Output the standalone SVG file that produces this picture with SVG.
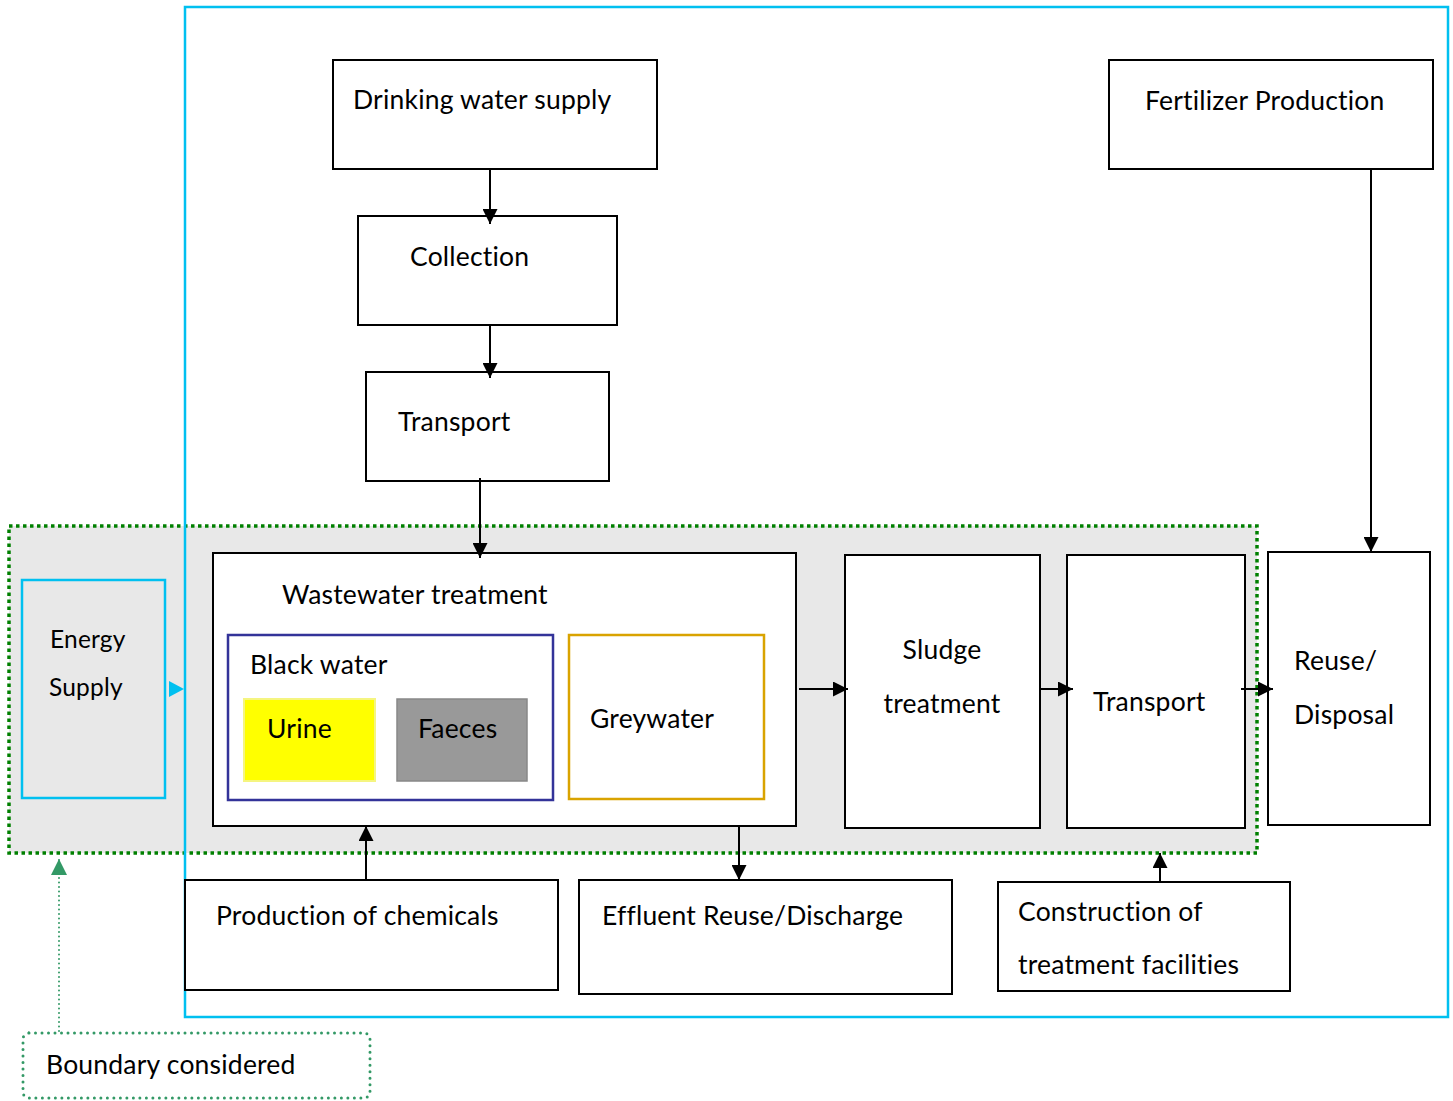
<svg xmlns="http://www.w3.org/2000/svg" width="1453" height="1101" viewBox="0 0 1453 1101">
  <style>
    text { font-family: Lato, "Open Sans", "Liberation Sans", sans-serif; font-size: 26.5px; fill: #000; letter-spacing: 0.2px; }
    .small { font-size: 24.5px; }
    .box { fill: #fff; stroke: #000; stroke-width: 2; }
    .conn { stroke: #000; stroke-width: 2; fill: none; }
  </style>
  <defs>
    <marker id="arr" viewBox="0 0 10 10" refX="10" refY="5" markerWidth="15" markerHeight="15" markerUnits="userSpaceOnUse" orient="auto">
      <path d="M0,0 L10,5 L0,10 z" fill="#000"/>
    </marker>
    <marker id="arrGreen" viewBox="0 0 10 10" refX="10" refY="5" markerWidth="16" markerHeight="16" markerUnits="userSpaceOnUse" orient="auto">
      <path d="M0,0 L10,5 L0,10 z" fill="#339966"/>
    </marker>
  </defs>

  <rect width="1453" height="1101" fill="#fff"/>

  <!-- system boundary area -->
  <g id="boundary">
    <rect x="9" y="526" width="1248" height="327" fill="#e8e8e8" stroke="#008000" stroke-width="3.5" stroke-dasharray="3.5 3.5"/>
  </g>

  <!-- outer system frame -->
  <g id="frame">
    <rect x="185" y="7" width="1263" height="1010" fill="none" stroke="#00c0f0" stroke-width="2.5"/>
  </g>

  <g id="energy">
    <rect x="22" y="580" width="143" height="218" fill="#e8e8e8" stroke="#00c0f0" stroke-width="2.5"/>
    <text class="small" x="50" y="648">Energy</text>
    <text class="small" x="49" y="696">Supply</text>
    <path d="M169,681 L184,689 L169,697 z" fill="#00c0f0"/>
  </g>

  <g id="drinking">
    <rect class="box" x="333" y="60" width="324" height="109"/>
    <text x="353" y="109">Drinking water supply</text>
  </g>
  <g id="collection">
    <rect class="box" x="358" y="216" width="259" height="109"/>
    <text x="410" y="266">Collection</text>
  </g>
  <g id="transport1">
    <rect class="box" x="366" y="372" width="243" height="109"/>
    <text x="398" y="431">Transport</text>
  </g>
  <g id="fertilizer">
    <rect class="box" x="1109" y="60" width="324" height="109"/>
    <text x="1145" y="110">Fertilizer Production</text>
  </g>

  <g id="wastewater">
    <rect class="box" x="213" y="553" width="583" height="273"/>
    <text x="282" y="604">Wastewater treatment</text>
    <g id="blackwater">
      <rect x="228" y="635" width="325" height="165" fill="#fff" stroke="#333399" stroke-width="2.5"/>
      <text x="250" y="674">Black water</text>
    </g>
    <g id="urine">
      <rect x="244" y="699" width="131" height="82" fill="#ffff00" stroke="#f5f580" stroke-width="2"/>
      <text x="267" y="738">Urine</text>
    </g>
    <g id="faeces">
      <rect x="397" y="699" width="130" height="82" fill="#999" stroke="#888" stroke-width="1.5"/>
      <text x="418" y="738">Faeces</text>
    </g>
    <g id="greywater">
      <rect x="569" y="635" width="195" height="164" fill="#fff" stroke="#d9a300" stroke-width="2.5"/>
      <text x="590" y="728">Greywater</text>
    </g>
  </g>

  <g id="sludge">
    <rect class="box" x="845" y="555" width="195" height="273"/>
    <text x="942" y="659" text-anchor="middle">Sludge</text>
    <text x="942" y="713" text-anchor="middle">treatment</text>
  </g>
  <g id="transport2">
    <rect class="box" x="1067" y="555" width="178" height="273"/>
    <text x="1093" y="711">Transport</text>
  </g>
  <g id="reuse">
    <rect class="box" x="1268" y="552" width="162" height="273"/>
    <text x="1294" y="670">Reuse/</text>
    <text x="1294" y="724">Disposal</text>
  </g>

  <g id="chemicals">
    <rect class="box" x="185" y="880" width="373" height="110"/>
    <text x="216" y="925">Production of chemicals</text>
  </g>
  <g id="effluent">
    <rect class="box" x="579" y="880" width="373" height="114"/>
    <text x="602" y="925">Effluent Reuse/Discharge</text>
  </g>
  <g id="construction">
    <rect class="box" x="998" y="882" width="292" height="109"/>
    <text x="1018" y="921">Construction of</text>
    <text x="1018" y="974">treatment facilities</text>
  </g>

  <g id="legend">
    <rect x="23" y="1033" width="347" height="65" rx="6" fill="none" stroke="#339966" stroke-width="3" stroke-dasharray="0 6.5" stroke-linecap="round"/>
    <text x="46" y="1074">Boundary considered</text>
  </g>

  <g id="connectors">
    <line class="conn" x1="490" y1="169" x2="490" y2="224" marker-end="url(#arr)"/>
    <line class="conn" x1="490" y1="325" x2="490" y2="378" marker-end="url(#arr)"/>
    <line class="conn" x1="480" y1="478" x2="480" y2="558" marker-end="url(#arr)"/>
    <line class="conn" x1="1371" y1="169" x2="1371" y2="552" marker-end="url(#arr)"/>
    <line class="conn" x1="799" y1="689" x2="848" y2="689" marker-end="url(#arr)"/>
    <line class="conn" x1="1040" y1="689" x2="1073" y2="689" marker-end="url(#arr)"/>
    <line class="conn" x1="1241" y1="689" x2="1273" y2="689" marker-end="url(#arr)"/>
    <line class="conn" x1="366" y1="880" x2="366" y2="826" marker-end="url(#arr)"/>
    <line class="conn" x1="739" y1="826" x2="739" y2="880" marker-end="url(#arr)"/>
    <line class="conn" x1="1160" y1="882" x2="1160" y2="853" marker-end="url(#arr)"/>
    <line x1="59" y1="1031" x2="59" y2="859" stroke="#339966" stroke-width="2" stroke-dasharray="0 4.5" stroke-linecap="round" marker-end="url(#arrGreen)"/>
  </g>
</svg>
